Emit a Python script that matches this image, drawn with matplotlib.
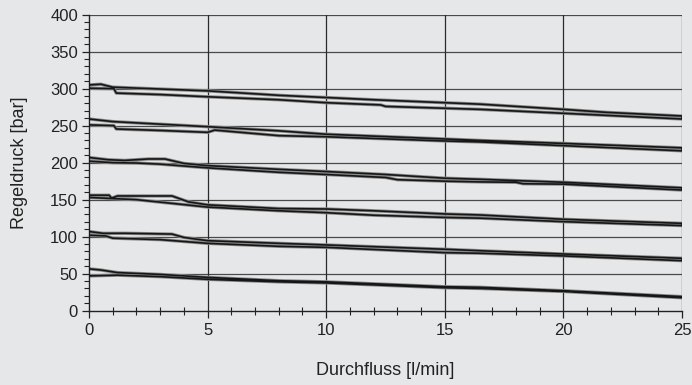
import matplotlib
matplotlib.use("Agg")
import matplotlib.pyplot as plt
from matplotlib.ticker import MultipleLocator

plt.rcParams['font.family'] = ['Liberation Sans', 'DejaVu Sans']

# Hysteresis curves: rising branch (up) and falling branch (down) per pressure setting
s1_up_x = [0, 0.5, 1, 2.6, 5, 8, 10, 12, 15, 16.5, 18, 20, 21.8, 25]
s1_up_y = [305, 306, 302, 300, 297, 291, 288, 285, 281, 279, 276, 272, 268, 263]
s1_dn_x = [0, 1.05, 1.15, 3, 5, 8, 10, 12.3, 12.5, 15, 16.5, 20, 25]
s1_dn_y = [300.5, 300, 294, 292, 289, 285, 281, 278, 276, 273.5, 272, 266.7, 259]

s2_up_x = [0, 1, 3, 5, 8, 10, 15, 16.5, 20, 25]
s2_up_y = [259, 255.5, 252, 248.6, 243, 238.4, 232, 230, 226, 220]
s2_dn_x = [0, 1.05, 1.15, 3, 5, 5.3, 8, 10, 15, 16.5, 20, 25]
s2_dn_y = [251, 250, 245.5, 243.5, 241, 244, 236.5, 235, 229.3, 228, 223, 216]

s3_up_x = [0, 0.8, 1.5, 2.5, 3.2, 4, 5, 8, 10, 12.5, 15, 16.5, 20, 25]
s3_up_y = [207, 204, 203, 205, 205, 199, 196, 191, 188, 184, 179, 177.5, 173.5, 166]
s3_dn_x = [0, 1, 2, 3, 5, 8, 10, 12.5, 13, 15, 16.5, 18, 18.3, 20, 25]
s3_dn_y = [202, 200, 199.5, 198, 193, 187, 184, 180, 177, 175, 174, 173.5, 171.5, 171, 163]

s4_up_x = [0, 0.85, 0.95, 1.2, 3.5, 4.2, 5, 8, 10, 12, 15, 16.5, 20, 25]
s4_up_y = [156, 156, 152, 155, 155, 147, 143, 138, 137.4, 135, 130.7, 129.3, 123.5, 118]
s4_dn_x = [0, 2, 5, 8, 10, 12, 15, 16.5, 20, 25]
s4_dn_y = [153, 150, 140, 135, 132.4, 129, 126, 125, 120.3, 115]

s5_up_x = [0, 0.6, 1.5, 3.5, 4, 5, 8, 10, 15, 16.5, 20, 25]
s5_up_y = [107, 104.5, 104.6, 103.5, 99, 94.6, 91, 88.8, 83, 81, 76.6, 70.8]
s5_dn_x = [0, 0.7, 1, 3, 5, 8, 10, 15, 16.5, 20, 25]
s5_dn_y = [102, 101, 98, 96, 91, 87, 85.6, 78.4, 77.6, 74, 67.6]

s6_up_x = [0, 0.5, 1.2, 3, 5, 8, 10, 15, 16.5, 20, 25]
s6_up_y = [56.5, 55, 51.5, 49, 45, 40.5, 39, 32.4, 31.6, 27, 19]
s6_dn_x = [0, 1.2, 3, 5, 8, 10, 15, 16.5, 20, 25]
s6_dn_y = [47, 48, 46, 42.4, 39, 37.5, 31, 30, 26, 17.5]

x_ticks = [0, 5, 10, 15, 20, 25]
y_ticks = [0, 50, 100, 150, 200, 250, 300, 350, 400]
x_label = "Durchfluss [l/min]"
y_label = "Regeldruck [bar]"

sets = [
    (s1_up_x, s1_up_y, s1_dn_x, s1_dn_y),
    (s2_up_x, s2_up_y, s2_dn_x, s2_dn_y),
    (s3_up_x, s3_up_y, s3_dn_x, s3_dn_y),
    (s4_up_x, s4_up_y, s4_dn_x, s4_dn_y),
    (s5_up_x, s5_up_y, s5_dn_x, s5_dn_y),
    (s6_up_x, s6_up_y, s6_dn_x, s6_dn_y),
]

bg = '#e6e7e8'
fig = plt.figure(figsize=(6.92, 3.85), dpi=100, facecolor=bg)
ax = fig.add_axes([0.1286, 0.193, 0.857, 0.769])
ax.set_facecolor(bg)

ax.set_xlim(0, 25)
ax.set_ylim(0, 400)
ax.set_xticks(x_ticks)
ax.set_yticks(y_ticks)
ax.xaxis.set_minor_locator(MultipleLocator(1))
ax.yaxis.set_minor_locator(MultipleLocator(10))

for v in y_ticks[1:]:
    ax.axhline(v, color='#4a4a4a', lw=0.9, zorder=1)
for v in x_ticks[1:]:
    ax.axvline(v, color='#2a2a2a', lw=0.9, zorder=1)

for ux, uy, dx, dy in sets:
    xs = list(ux) + list(reversed(dx))
    ys = list(uy) + list(reversed(dy))
    ax.plot(xs, ys, color='#8a8a8a', lw=2.4, solid_joinstyle='round', zorder=2)
    ax.plot(xs, ys, color='#161616', lw=1.2, solid_joinstyle='round', zorder=3)

for s in ['top', 'right']:
    ax.spines[s].set_visible(False)
ax.spines['left'].set_color('#222222')
ax.spines['bottom'].set_color('#222222')
ax.spines['left'].set_linewidth(1.0)
ax.spines['bottom'].set_linewidth(1.0)

ax.tick_params(axis='both', which='major', labelsize=12, colors='#222222',
               direction='out', length=5, width=0.9)
ax.tick_params(axis='x', which='minor', direction='inout', length=6, width=0.8, colors='#222222')
ax.tick_params(axis='y', which='minor', direction='out', length=3.5, width=0.8, colors='#222222')
ax.tick_params(axis='x', which='major', pad=4)
ax.tick_params(axis='y', which='major', pad=3)

ax.set_xlabel(x_label, fontsize=13, color='#222222', labelpad=17)
ax.set_ylabel(y_label, fontsize=13, color='#222222', labelpad=16)

fig.savefig('out.png', dpi=100, facecolor=bg)
